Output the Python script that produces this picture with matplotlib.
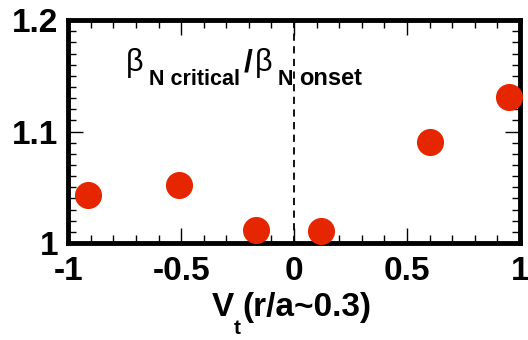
import matplotlib
matplotlib.use("Agg")
import matplotlib.pyplot as plt
from matplotlib.ticker import MultipleLocator

# data
vt = [-0.91, -0.51, -0.17, 0.12, 0.60, 0.95]
beta_ratio = [1.043, 1.052, 1.012, 1.011, 1.091, 1.131]

x_ticks = [-1, -0.5, 0, 0.5, 1]
x_tick_labels = ["-1", "-0.5", "0", "0.5", "1"]
y_ticks = [1.0, 1.1, 1.2]
y_tick_labels = ["1", "1.1", "1.2"]

plt.rcParams["font.family"] = ["Liberation Sans", "DejaVu Sans"]
plt.rcParams["font.weight"] = "bold"

W, H = 528, 340
fig = plt.figure(figsize=(W / 100, H / 100), dpi=100)
ax = fig.add_axes([0.129, 0.285, 0.856, 0.656])


def put(x, y, s, size, weight="bold"):
    # place a text piece at pixel position (x, baseline y) of the image
    fig.text(x / W, 1 - y / H, s, fontsize=size, fontweight=weight,
             ha="left", va="baseline")


ax.axvline(0, color="black", linewidth=1.3, linestyle=(0, (4, 3)), zorder=1)
ax.plot(vt, beta_ratio, "o", color="#e52600", markersize=19.5,
        markeredgewidth=0, zorder=3, clip_on=False)

ax.set_xlim(-1, 1)
ax.set_ylim(1, 1.2)
ax.set_xticks(x_ticks)
ax.set_xticklabels(x_tick_labels)
ax.set_yticks(y_ticks)
ax.set_yticklabels(y_tick_labels)
ax.xaxis.set_minor_locator(MultipleLocator(0.1))
ax.yaxis.set_minor_locator(MultipleLocator(0.01))

ax.tick_params(which="both", direction="in", top=True, right=True,
               width=1.0, labelsize=24)
ax.tick_params(which="major", length=11, pad=9)
ax.tick_params(which="minor", length=5.5)
ax.tick_params(axis="y", which="major", pad=7)

for sp in ax.spines.values():
    sp.set_linewidth(3.5)

# x label: V with a dropped subscript t
put(212, 316, "V", 24)
put(234, 334, "t", 15)
put(242, 316, "(r/a~0.3)", 24)

# annotation: beta_N critical / beta_N onset
put(126, 71, "β", 22, "normal")
put(149, 85, "N critical", 15.5)
put(244, 71, "/", 23)
put(255, 71, "β", 22, "normal")
put(278, 85, "N", 15.5)
put(299, 85, "onset", 17)

fig.savefig("out.png", dpi=100)
